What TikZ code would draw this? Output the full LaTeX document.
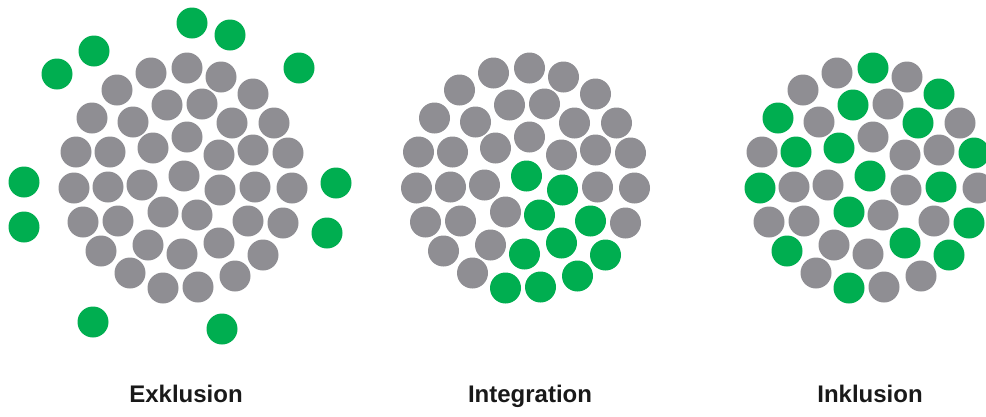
\documentclass[tikz,border=0pt]{standalone}
\usepackage{fontspec}
\setmainfont{Liberation Sans}
\definecolor{dotgray}{RGB}{143,142,147}
\definecolor{dotgreen}{RGB}{0,174,80}
\definecolor{labelcol}{RGB}{25,25,25}
\begin{document}
\begin{tikzpicture}[x=1pt,y=-1pt,
  dotk/.style={fill=dotgray},
  dotg/.style={fill=dotgreen},
  lab/.style={anchor=base,text=labelcol,font=\bfseries\fontsize{24}{24}\selectfont}]
\useasboundingbox (0,0) rectangle (986,416);
\clip (0,0) rectangle (986,416);
\fill[white] (0,0) rectangle (986,416);
% clusters: base position, colour in Integration, colour in Inklusion
\foreach \x/\y/\m/\r in {
  187/68/k/g, 151/73/k/k, 221/77/k/k, 117/90/k/k, 253/94/k/g,
  202/104/k/k, 167/105/k/g, 92/118/k/g, 133/122/k/k, 232/123/k/g,
  274/123/k/k, 187/137/k/k, 76/152/k/k, 110/152/k/g, 153/148/k/g,
  219/155/k/k, 253/150/k/k, 288/153/k/g, 184/176/g/g, 74/188/k/g,
  108/187/k/k, 142/185/k/k, 220/190/g/k, 255/187/k/g, 292/188/k/k,
  83/222/k/k, 118/221/k/k, 163/212/k/g, 197/215/g/k, 248/221/g/k,
  283/223/k/g, 101/251/k/g, 148/245/k/k, 182/254/g/k, 219/243/g/g,
  263/255/g/g, 130/273/k/k, 163/288/g/g, 198/287/g/k, 235/276/g/k}
{
  \fill[dotk] (\x,\y) circle (15.5pt);
  \fill[dot\m] ({\x+342.5},\y) circle (15.5pt);
  \fill[dot\r] ({\x+686},\y) circle (15.5pt);
}
% excluded green dots
\foreach \x/\y in {192/23, 230/35, 94/51, 57/74, 299/68, 24/182, 24/227,
  336/183, 327/233, 93/322, 222/329}
  \fill[dotg] (\x,\y) circle (15.5pt);
\node[lab] (lex) at (186,402) {Exklusion};
\node[lab] (lint) at (530,402) {Integration};
\node[lab] (linkl) at (870,402) {Inklusion};
\end{tikzpicture}
\end{document}
